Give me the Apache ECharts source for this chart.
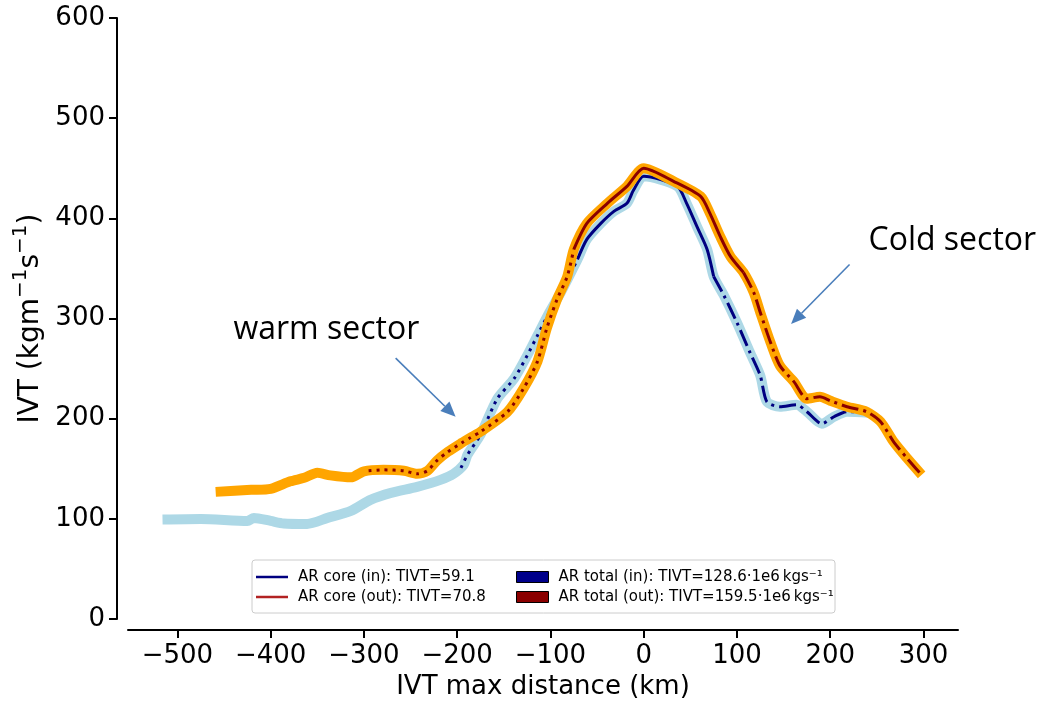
<!DOCTYPE html>
<html><head><meta charset="utf-8">
<script src="https://cdn.jsdelivr.net/npm/echarts@6/dist/echarts.min.js"></script>
<style>html,body{margin:0;padding:0;background:#fff}#c{width:1041px;height:705px}</style>
</head><body><div id="c"></div>
<script>
// ---- data ----
const xTicks = [-500, -400, -300, -200, -100, 0, 100, 200, 300];
const yTicks = [0, 100, 200, 300, 400, 500, 600];

const totalInDist = [-516,-475,-425,-418,-400,-386,-361,-339,-314,-293,-271,-243,-218,-204,-193,-189,-175,-157,-139,-125,-114,-103,-89,-78,-71,-61,-46,-32,-18,-11,0,36,46,57,68,75,86,100,114,125,132,146,164,175,191,204,218,242];
const totalInIVT  = [99.5,100,98,101,98,95.5,95,101,108,119,126,132,139,145,154,164,184,220,240,263,283,303,326,346,359,379,395,407,415,428,442,432,415,392,369,342,323,296,266,243,217,212,214,207,195,202,207,206];

const totalOutDist = [-459,-421,-400,-379,-364,-350,-336,-314,-300,-279,-257,-243,-232,-222,-210,-195,-186,-175,-146,-129,-114,-104,-93,-82,-75,-61,-39,-18,0,32,61,71,82,93,107,118,125,136,146,161,175,189,200,218,239,254,268,282,298];
const totalOutIVT  = [127,129,130,137.5,141,146,143.5,141.5,147.5,149,148,145,148,158,167,176,181,187,207,230,257,290,319,342,369,395,415,432,450,437,422,405,382,362,346,326,306,276,253,237,220,222,218,212,207,197,177,161,144];

const coreInDist = [-196,-189,-175,-157,-139,-125,-114,-103,-89,-78,-71,-61,-46,-32,-18,-11,0,36,46,57,68,75,86,100,114,125,132,146,164,175,191,204,218,236];
const coreInIVT  = [151,164,184,220,240,263,283,303,326,346,359,379,395,407,415,428,442,432,415,392,369,342,323,296,266,243,217,212,214,207,195,202,207,207];

const coreOutDist = [-295,-279,-257,-243,-232,-222,-210,-195,-186,-175,-146,-129,-114,-104,-93,-82,-75,-61,-39,-18,0,32,61,71,82,93,107,118,125,136,146,161,175,189,200,218,239,254,268,282,296];
const coreOutIVT  = [148,149,148,145,148,158,167,176,181,187,207,230,257,290,319,342,369,395,415,432,450,437,422,405,382,362,346,326,306,276,253,237,220,222,218,212,207,197,177,161,146];

const nameCoreIn  = 'AR core (in): TIVT=59.1';
const nameCoreOut = 'AR core (out): TIVT=70.8';
const nameTotIn   = 'AR total (in): TIVT=128.6\u00b71e6\u2009kgs\u207b\u00b9';
const nameTotOut  = 'AR total (out): TIVT=159.5\u00b71e6\u2009kgs\u207b\u00b9';

// line-style changes along the core curves (distance where style switches)
const coreInBreaks  = [-71, 75];
const coreOutBreaks = [-75, 107];

// annotations (data coordinates)
const annotTexts   = ['warm sector', 'Cold sector'];
const annotTextPos = [[-440, 289], [241, 378]];
const arrowFrom    = [[-266, 260.5], [220.7, 354]];
const arrowTo      = [[-201.7, 202], [158, 294.6]];

// ---- chart ----
const FONT = 'DejaVu Sans';
function pairs(d, v, lo, hi) {
  const out = [];
  for (let i = 0; i < d.length; i++) if (d[i] >= lo && d[i] <= hi) out.push([d[i], v[i]]);
  return out;
}
const DOT = [3, 5], DASHDOT = [17, 5, 3, 5];
function line(name, data, color, width, type, z) {
  return { type: 'line', name, data, showSymbol: false, symbol: 'none', z, silent: true, smooth: 0.25,
    itemStyle: { color }, lineStyle: { color, width, type, cap: 'butt', join: 'round' } };
}
const series = [
  line(nameTotIn, pairs(totalInDist, totalInIVT, -1e9, 1e9), '#ADD8E6', 10, 'solid', 1),
  line(nameCoreIn, pairs(coreInDist, coreInIVT, -1e9, coreInBreaks[0]), '#000080', 3, DOT, 2),
  line(nameCoreIn, pairs(coreInDist, coreInIVT, coreInBreaks[0], coreInBreaks[1]), '#000080', 3, 'solid', 2),
  line(nameCoreIn, pairs(coreInDist, coreInIVT, coreInBreaks[1], 1e9), '#000080', 3, DASHDOT, 2),
  line(nameTotOut, pairs(totalOutDist, totalOutIVT, -1e9, 1e9), '#FFA500', 10, 'solid', 3),
  line(nameCoreOut, pairs(coreOutDist, coreOutIVT, -1e9, coreOutBreaks[0]), '#8B0000', 3, DOT, 4),
  line(nameCoreOut, pairs(coreOutDist, coreOutIVT, coreOutBreaks[0], coreOutBreaks[1]), '#8B0000', 3, 'solid', 4),
  line(nameCoreOut, pairs(coreOutDist, coreOutIVT, coreOutBreaks[1], 1e9), '#8B0000', 3, DASHDOT, 4)
];

const legendText = { fontFamily: FONT, fontSize: 15, color: '#000', padding: [0, 0, 0, 5] };
const option = {
  animation: false,
  backgroundColor: '#fff',
  grid: { left: 128, right: 83, top: 18, bottom: 80 },
  xAxis: {
    type: 'value', min: -553, max: 337, offset: 11,
    name: 'IVT max distance (km)', nameLocation: 'middle', nameGap: 42,
    nameTextStyle: { fontFamily: FONT, fontSize: 26, color: '#000' },
    axisLine: { show: true, onZero: false, lineStyle: { color: '#000', width: 2 } },
    axisTick: { show: true, length: 8, lineStyle: { color: '#000', width: 2 }, customValues: xTicks },
    axisLabel: { fontFamily: FONT, fontSize: 26, color: '#000', margin: 13, customValues: xTicks,
      formatter: v => String(v).replace('-', '\u2212') },
    splitLine: { show: false }
  },
  yAxis: {
    type: 'value', min: yTicks[0], max: yTicks[yTicks.length - 1], interval: 100, offset: 11,
    name: '{m|IVT (kgm}{s|\u22121}{m|s}{s|\u22121}{m|)}', nameLocation: 'middle', nameGap: 72, nameRotate: 90,
    nameTextStyle: { fontFamily: FONT, fontSize: 28, color: '#000',
      rich: { m: { fontFamily: FONT, fontSize: 28, color: '#000', lineHeight: 34, verticalAlign: 'bottom' },
              s: { fontFamily: FONT, fontSize: 20, color: '#000', lineHeight: 34, verticalAlign: 'top', padding: [0, 0, 12, 0] } } },
    axisLine: { show: true, onZero: false, lineStyle: { color: '#000', width: 2 } },
    axisTick: { show: true, length: 8, lineStyle: { color: '#000', width: 2 } },
    axisLabel: { fontFamily: FONT, fontSize: 26, color: '#000', margin: 12 },
    splitLine: { show: false }
  },
  legend: [
    { orient: 'vertical', left: 256, top: 569.5, padding: 0, itemGap: 5, itemWidth: 32, itemHeight: 2.5,
      selectedMode: false, textStyle: legendText, z: 20,
      data: [ { name: nameCoreIn, icon: 'rect', itemStyle: { color: '#000080', borderWidth: 0 } },
              { name: nameCoreOut, icon: 'rect', itemStyle: { color: '#B22222', borderWidth: 0 } } ] },
    { orient: 'vertical', left: 516, top: 569.5, padding: 0, itemGap: 5, itemWidth: 32, itemHeight: 11,
      selectedMode: false, textStyle: legendText, z: 20,
      data: [ { name: nameTotIn, icon: 'rect', itemStyle: { color: '#00008B', borderColor: '#000', borderWidth: 1 } },
              { name: nameTotOut, icon: 'rect', itemStyle: { color: '#8B0000', borderColor: '#000', borderWidth: 1 } } ] }
  ],
  series
};
const chart = echarts.init(document.getElementById('c'), null, { renderer: 'canvas' });
chart.setOption(option);

// annotations & legend frame via the chart's coordinate conversion
const g = [];
g.push({ type: 'rect', z: 5, shape: { x: 252, y: 560, width: 583, height: 53, r: 3 },
  style: { fill: 'rgba(255,255,255,0.8)', stroke: '#cccccc', lineWidth: 1 } });
const ARROW = '#4A7EBB';
for (let i = 0; i < annotTexts.length; i++) {
  const tp = chart.convertToPixel({ gridIndex: 0 }, annotTextPos[i]);
  g.push({ type: 'text', z: 10, style: { text: annotTexts[i], x: tp[0], y: tp[1], fill: '#000',
    font: '32px "Open Sans"', align: 'left', verticalAlign: 'middle' } });
  const a = chart.convertToPixel({ gridIndex: 0 }, arrowFrom[i]);
  const b = chart.convertToPixel({ gridIndex: 0 }, arrowTo[i]);
  const dx = b[0] - a[0], dy = b[1] - a[1], L = Math.hypot(dx, dy);
  const ux = dx / L, uy = dy / L, hl = 15, hw = 6.5;
  const bx = b[0] - ux * hl, by = b[1] - uy * hl;
  g.push({ type: 'line', z: 10, shape: { x1: a[0], y1: a[1], x2: bx, y2: by }, style: { stroke: ARROW, lineWidth: 1.6 } });
  g.push({ type: 'polygon', z: 10, shape: { points: [[b[0], b[1]], [bx - uy * hw, by + ux * hw], [bx + uy * hw, by - ux * hw]] },
    style: { fill: ARROW } });
}
chart.setOption({ graphic: g });
</script></body></html>
